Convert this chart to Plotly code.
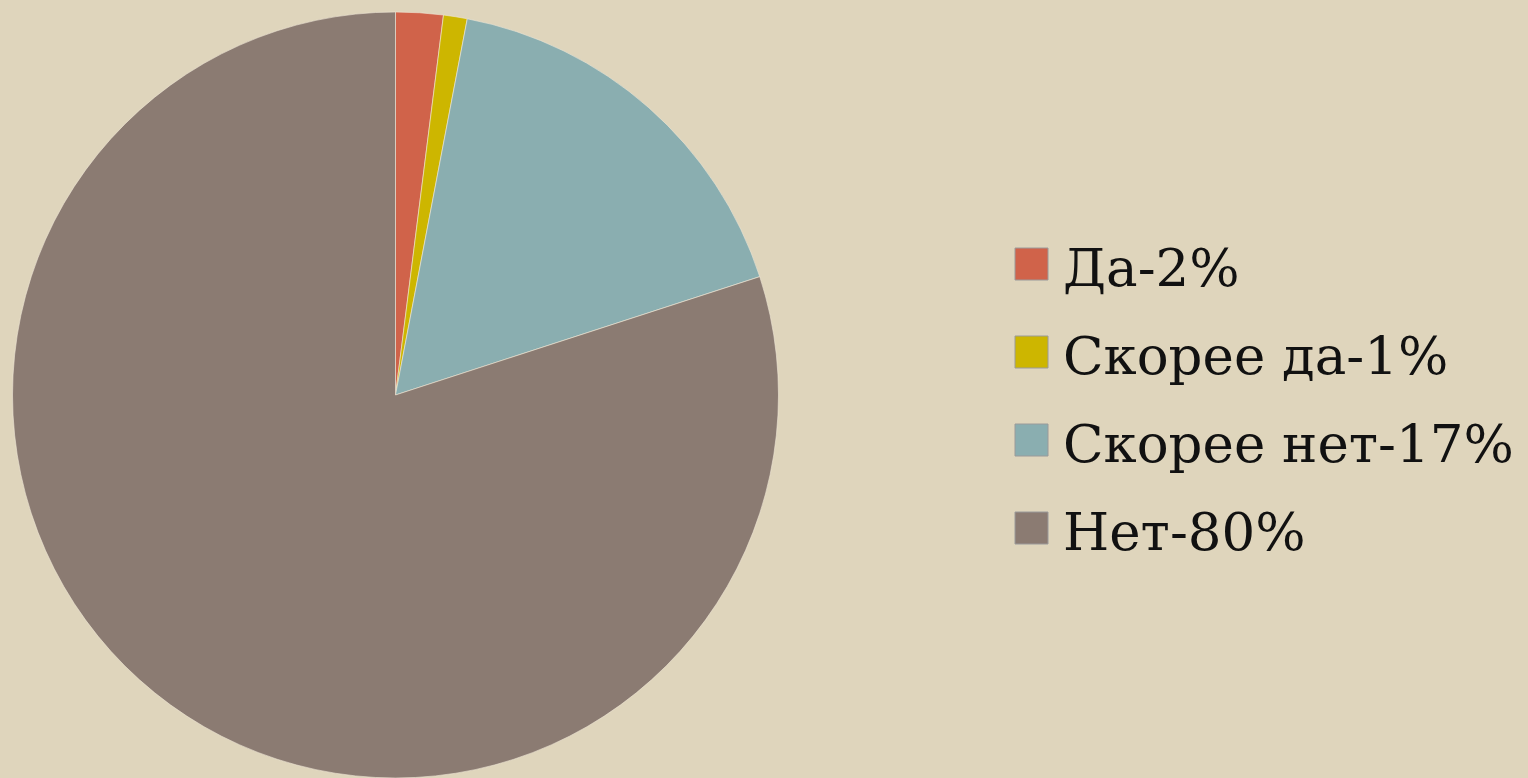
import plotly.graph_objects as go

labels = ["Да-2%", "Скорее да-1%", "Скорее нет-17%", "Нет-80%"]
values = [2, 1, 17, 80]
colors = ["#D0634A", "#CDB600", "#8AAEB0", "#8B7B72"]

W, H = 1528, 778
BG = "#DFD5BC"

fig = go.Figure(go.Pie(
    labels=labels, values=values, sort=False, direction="clockwise", rotation=0,
    marker=dict(colors=colors, line=dict(color="rgba(240,232,215,0.6)", width=1)),
    textinfo="none", hoverinfo="label+value",
    domain=dict(x=[12 / W, 779 / W], y=[0, 1 - 12 / H]),
    showlegend=False,
))

# custom legend built from the label/color lists
row0, step = 264, 88
shapes, annots = [], []
for i, (lab, col) in enumerate(zip(labels, colors)):
    cy = row0 + i * step
    shapes.append(dict(type="rect", xref="paper", yref="paper",
                       x0=1015 / W, x1=1048 / W, y0=1 - (cy + 16) / H, y1=1 - (cy - 16) / H,
                       fillcolor=col, line=dict(color="#9a9a9a", width=1)))
    annots.append(dict(text=lab, xref="paper", yref="paper", x=1061 / W, y=1 - (cy + 3) / H,
                       xanchor="left", yanchor="middle", showarrow=False,
                       font=dict(family="DejaVu Serif", size=53, color="#111111")))

fig.update_layout(
    width=W, height=H, margin=dict(l=0, r=0, t=0, b=0),
    paper_bgcolor=BG, plot_bgcolor=BG,
    shapes=shapes, annotations=annots,
)

fig.write_html("out.html", config={"displayModeBar": False},
               post_script="document.body.style.margin='0';document.body.style.overflow='hidden';")
